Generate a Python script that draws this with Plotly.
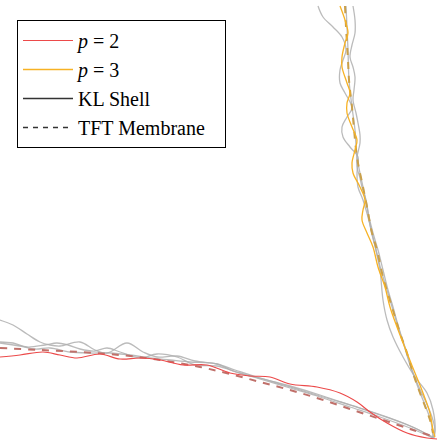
import plotly.graph_objects as go

# ---- data (x to the right, y downward) ----
# Horizontal arm
red_x = [0, 20, 43, 60, 77, 100, 120, 140, 160, 183, 207, 230, 250, 270, 290, 317, 340, 357, 370, 387, 407, 427, 437]
red_y = [357, 355, 352, 355, 358, 354, 359, 358, 360, 365, 365, 373, 376, 377, 384, 387, 393, 402, 412, 423, 433, 438, 439]

tft_h_x = [0, 40, 80, 120, 160, 200, 230, 260, 290, 320, 350, 380, 410, 432]
tft_h_y = [348, 350, 352, 355, 360, 367, 374, 382, 390, 399, 409, 419, 429, 436]

kl_h1_x = [0, 13, 27, 40, 50, 60, 80, 95, 107, 127, 143, 157, 177, 195, 217, 235, 260, 290, 320, 350, 380, 410, 433]
kl_h1_y = [320, 325, 334, 342, 345, 346, 342, 350, 353, 343, 352, 357, 356, 361, 364, 370, 378, 386, 395, 405, 415, 426, 437]
kl_h2_x = [0, 13, 27, 45, 57, 68, 80, 95, 107, 120, 140, 157, 177, 195, 217, 240, 270, 300, 330, 360, 390, 415, 433]
kl_h2_y = [342, 343, 347, 345, 343, 345, 349, 351, 348, 352, 358, 354, 357, 365, 366, 373, 381, 390, 399, 408, 418, 428, 438]
kl_h3_x = [0, 20, 35, 50, 70, 90, 110, 130, 150, 170, 190, 217, 233, 260, 290, 320, 350, 380, 410, 433]
kl_h3_y = [343, 346, 349, 348, 352, 353, 353, 355, 358, 360, 362, 364, 371, 379, 388, 397, 407, 417, 428, 438]

# Vertical arm
orange_x = [340, 345, 348, 345, 342, 342, 347, 350, 347, 347, 352, 357, 355, 352, 353, 360, 365, 363, 362, 367, 373, 378, 385, 390, 397, 407, 415, 423, 430, 433, 435]
orange_y = [6, 20, 33, 43, 57, 67, 83, 93, 103, 113, 127, 140, 150, 163, 173, 187, 200, 210, 220, 233, 247, 267, 287, 307, 327, 353, 373, 393, 413, 430, 437]

tft_v_x = [345, 346, 348, 349, 352, 357, 363, 367, 372, 377, 383, 392, 400, 407, 413, 420, 430, 433]
tft_v_y = [6, 27, 60, 80, 107, 157, 187, 207, 233, 250, 277, 307, 333, 353, 373, 393, 420, 433]

kl_v1_x = [318, 323, 333, 342, 346, 343, 340, 340, 345, 352, 347, 342, 343, 350, 358, 357, 358, 363, 368, 372, 376, 380, 383, 387, 393, 403, 415, 427, 433, 435, 433]
kl_v1_y = [6, 17, 27, 37, 50, 60, 70, 83, 93, 108, 117, 127, 137, 147, 157, 173, 187, 200, 217, 233, 250, 270, 300, 320, 337, 357, 377, 393, 410, 430, 438]
kl_v2_x = [353, 355, 355, 352, 350, 353, 355, 354, 353, 356, 358, 360, 360, 357, 357, 360, 362, 366, 369, 373, 378, 383, 388, 393, 398, 404, 410, 418, 425, 432, 435, 434]
kl_v2_y = [6, 20, 33, 45, 57, 67, 77, 90, 100, 113, 123, 135, 143, 157, 167, 178, 187, 200, 217, 233, 250, 270, 290, 307, 325, 345, 365, 385, 400, 417, 430, 438]
kl_v3_x = [346, 347, 348, 349, 352, 355, 357, 363, 367, 371, 376, 381, 387, 393, 399, 406, 412, 419, 425, 431, 433]
kl_v3_y = [6, 27, 50, 80, 107, 130, 157, 187, 207, 230, 250, 270, 290, 310, 330, 350, 370, 390, 405, 422, 438]

GRAY = "rgba(175,175,175,0.85)"
RED = "#ec4a4a"
ORANGE = "#f7b224"

fig = go.Figure()

for xs, ys in [(kl_h1_x, kl_h1_y), (kl_h2_x, kl_h2_y), (kl_h3_x, kl_h3_y),
               (kl_v1_x, kl_v1_y), (kl_v2_x, kl_v2_y), (kl_v3_x, kl_v3_y)]:
    fig.add_trace(go.Scatter(x=xs, y=ys, mode="lines", showlegend=False,
                             line=dict(color=GRAY, width=1.3, shape="spline", smoothing=1.0),
                             hoverinfo="skip"))

fig.add_trace(go.Scatter(x=tft_h_x, y=tft_h_y, mode="lines", showlegend=False,
                         line=dict(color="#c0706a", width=2, dash="7px,7px", shape="spline")))
fig.add_trace(go.Scatter(x=tft_v_x, y=tft_v_y, mode="lines", showlegend=False,
                         line=dict(color="#caa04a", width=2, dash="7px,7px", shape="spline")))

fig.add_trace(go.Scatter(x=red_x, y=red_y, mode="lines", name="<i>p</i> = 2",
                         line=dict(color=RED, width=1.2, shape="spline", smoothing=1.0)))
fig.add_trace(go.Scatter(x=orange_x, y=orange_y, mode="lines", name="<i>p</i> = 3",
                         line=dict(color=ORANGE, width=1.3, shape="spline", smoothing=1.0)))

# legend-only style entries
fig.add_trace(go.Scatter(x=[None], y=[None], mode="lines", name="KL Shell",
                         line=dict(color="#333333", width=1.3)))
fig.add_trace(go.Scatter(x=[None], y=[None], mode="lines", name="TFT Membrane&nbsp;&nbsp;&nbsp;",
                         line=dict(color="#333333", width=1.3, dash="5px,5px")))

fig.update_layout(
    width=437, height=444,
    margin=dict(l=0, r=0, t=0, b=0),
    paper_bgcolor="white", plot_bgcolor="white",
    xaxis=dict(range=[0, 437], visible=False, fixedrange=True),
    yaxis=dict(range=[444, 0], visible=False, fixedrange=True),
    legend=dict(
        x=17 / 437, y=1 - 20 / 444, xanchor="left", yanchor="top",
        bordercolor="black", borderwidth=1, bgcolor="white",
        font=dict(family="Liberation Serif", size=20, color="black"),
        itemwidth=50, tracegroupgap=0,
    ),
)

fig.write_html("out.html", config={"displayModeBar": False},
               post_script="document.body.style.margin='0';document.body.style.overflow='hidden';")
